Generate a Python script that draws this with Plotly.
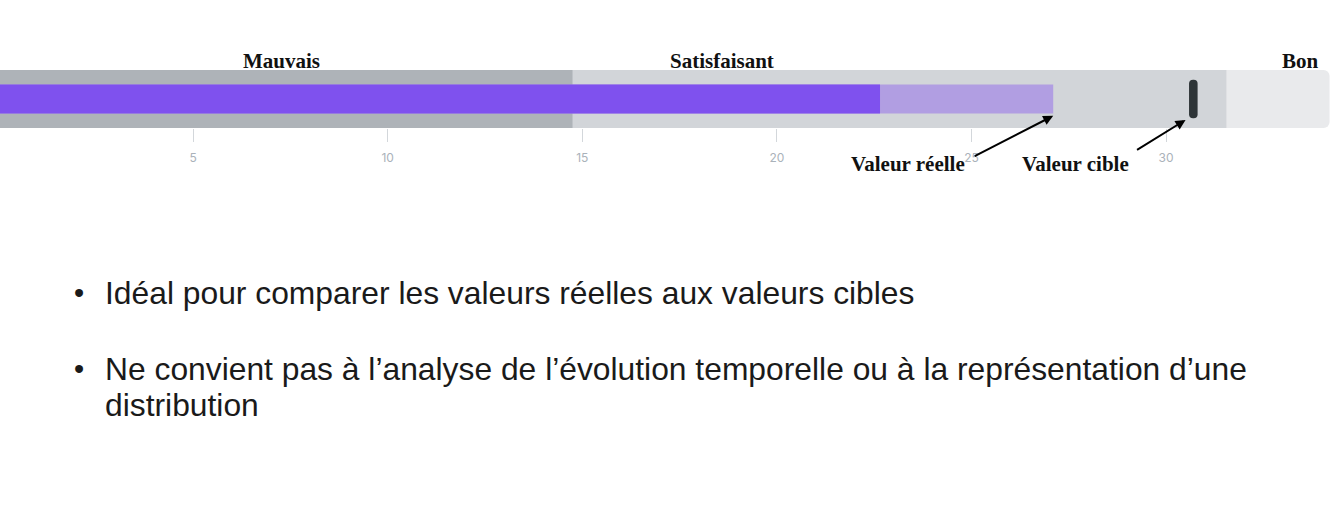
import plotly.graph_objects as go

WIDTH = 1342
HEIGHT = 509

# qualitative ranges (upper bound of each band)
range_names = ["Mauvais", "Satisfaisant", "Bon"]
range_ends = [14.75, 31.55, 34.2]
range_colors = ["#aeb3b8", "#d2d5d9", "#e9eaec"]

# measures
previous_value = 22.65
actual_value = 27.1
target_value = 30.7

tick_values = [0, 5, 10, 15, 20, 25, 30, 35]

bullet_lines = [
    "Idéal pour comparer les valeurs réelles aux valeurs cibles",
    "Ne convient pas à l’analyse de l’évolution temporelle ou à la représentation d’une",
]
continuation_line = "distribution"


def px_x(px):
    return px / WIDTH


def px_y(px):
    return 1 - px / HEIGHT


def text_font(size):
    return dict(family="Liberation Sans", size=size, color="#1a1a1a")


def create_figure():
    fig = go.Figure()

    # bands, widest first so the narrower ones sit on top
    for name, end, color in sorted(
        zip(range_names, range_ends, range_colors), key=lambda r: -r[1]
    ):
        fig.add_trace(
            go.Bar(
                name=name, x=[end], y=[0], orientation="h", width=1,
                marker=dict(color=color, cornerradius=6, line=dict(width=0)),
                hoverinfo="skip",
            )
        )

    fig.add_trace(
        go.Bar(
            name="Valeur réelle", x=[actual_value], y=[0], orientation="h", width=0.5,
            marker=dict(color="#b19ee2", cornerradius=5, line=dict(width=0)),
        )
    )
    fig.add_trace(
        go.Bar(
            name="Précédent", x=[previous_value], y=[0], orientation="h", width=0.5,
            marker=dict(color="#7f51ee", cornerradius=5, line=dict(width=0)),
        )
    )
    fig.add_trace(
        go.Bar(
            name="Valeur cible", x=[0.22], base=[target_value - 0.11], y=[0],
            orientation="h", width=0.66,
            marker=dict(color="#2e3538", cornerradius=4, line=dict(width=0)),
        )
    )

    annotations = []

    # band labels above the bar
    for name, xpos in zip(range_names, [281, 722, 1300]):
        annotations.append(dict(
            text=f"<b>{name}</b>", xref="paper", yref="paper",
            x=px_x(xpos), y=px_y(61), xanchor="center", yanchor="middle",
            showarrow=False,
            font=dict(family="Liberation Serif", size=21, color="#111111"),
        ))

    # arrow labels
    for label, xpos in [("Valeur réelle", 908), ("Valeur cible", 1075)]:
        annotations.append(dict(
            text=f"<b>{label}</b>", xref="paper", yref="paper",
            x=px_x(xpos), y=px_y(164), xanchor="center", yanchor="middle",
            showarrow=False,
            font=dict(family="Liberation Serif", size=21, color="#111111"),
        ))

    annotations.append(dict(
        text="", x=actual_value, y=-0.29, xref="x", yref="y",
        ax=-80, ay=41, showarrow=True, arrowhead=2, arrowsize=1,
        arrowwidth=2, arrowcolor="#000000",
    ))
    annotations.append(dict(
        text="", x=target_value - 0.2, y=-0.36, xref="x", yref="y",
        ax=-50, ay=31, showarrow=True, arrowhead=2, arrowsize=1,
        arrowwidth=2, arrowcolor="#000000",
    ))

    # bullet points
    for line, ypos in zip(bullet_lines, [293, 369]):
        annotations.append(dict(
            text="•", xref="paper", yref="paper", x=px_x(72), y=px_y(ypos),
            xanchor="left", yanchor="middle", showarrow=False,
            font=text_font(29),
        ))
        annotations.append(dict(
            text=line, xref="paper", yref="paper", x=px_x(103), y=px_y(ypos),
            xanchor="left", yanchor="middle", showarrow=False,
            font=text_font(31.8),
        ))
    annotations.append(dict(
        text=continuation_line, xref="paper", yref="paper", x=px_x(103),
        y=px_y(405), xanchor="left", yanchor="middle", showarrow=False,
        font=text_font(31.8),
    ))

    fig.update_layout(
        width=WIDTH, height=HEIGHT,
        margin=dict(l=0, r=0, t=0, b=0),
        paper_bgcolor="white", plot_bgcolor="white",
        barmode="overlay", showlegend=False,
        xaxis=dict(
            range=[0.04, 34.52], tickvals=tick_values, showgrid=False,
            zeroline=False, showline=False, ticks="outside", ticklen=13,
            tickwidth=1, tickcolor="#d3d7db", ticklabelstandoff=6,
            tickfont=dict(family="Inter", size=12, color="#aab2ba"),
        ),
        yaxis=dict(
            range=[-0.5, 0.5], domain=[px_y(128), px_y(70)], visible=False,
        ),
        annotations=annotations,
    )
    return fig


fig = create_figure()
# drop the browser's default page margin so the figure sits at the top-left corner
fig.write_html(
    "out.html",
    config={"displayModeBar": False},
    post_script="document.body.style.margin = '0';",
)
